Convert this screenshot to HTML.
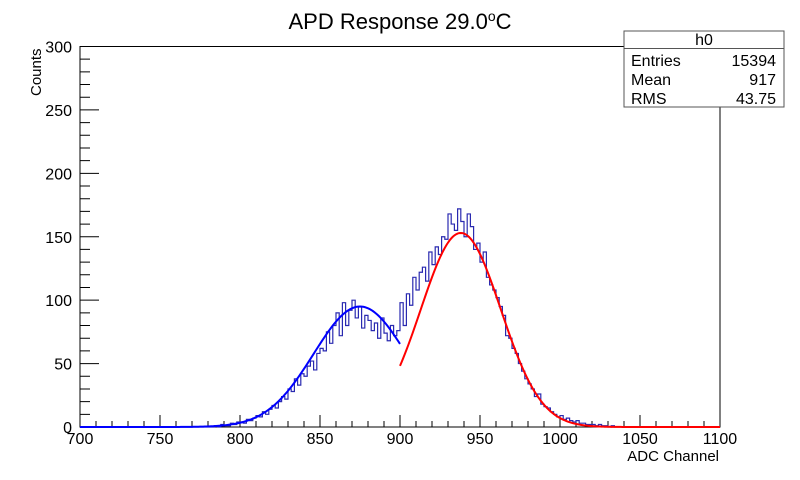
<!DOCTYPE html>
<html><head><meta charset="utf-8"><style>
body{margin:0;background:#fff;width:800px;height:475px;overflow:hidden;font-family:"Liberation Sans",sans-serif}
</style></head><body>
<svg id="c" width="800" height="475" xmlns="http://www.w3.org/2000/svg" font-family="Liberation Sans, sans-serif">
<text x="400" y="29" font-size="22" text-anchor="middle">APD Response 29.0<tspan dy="-8" font-size="14">o</tspan><tspan dy="8">C</tspan></text>
<g id="ax"></g>
<g id="marks"></g>
<text x="719" y="461" font-size="15" text-anchor="end">ADC Channel</text>
<text transform="translate(41,96) rotate(-90)" font-size="15" text-anchor="start">Counts</text>
<g>
<rect x="624" y="31" width="160" height="76" fill="#fff" stroke="#555" stroke-width="1"/>
<line x1="624" y1="48.5" x2="784" y2="48.5" stroke="#555"/>
<text x="704" y="45" font-size="16" text-anchor="middle">h0</text>
<text x="631" y="66" font-size="16">Entries</text><text x="776" y="66" font-size="16" text-anchor="end">15394</text>
<text x="631" y="85" font-size="16">Mean</text><text x="776" y="85" font-size="16" text-anchor="end">917</text>
<text x="631" y="104" font-size="16">RMS</text><text x="776" y="104" font-size="16" text-anchor="end">43.75</text>
</g>
</svg>
<script>
const binStart = 780;
const binWidth = 2;
const counts = [0,0,1,0,2,1,1,3,2,4,
4,3,6,5,7,9,8,12,10,14,
17,15,20,24,22,30,28,38,33,42,
40,48,52,45,58,62,60,75,66,80,
90,72,98,80,92,100,86,95,78,88,
84,76,82,70,86,74,68,80,72,76,
98,80,105,96,118,108,122,126,115,138,
128,142,136,150,148,168,160,155,172,162,
150,168,158,140,145,130,138,118,112,108,
102,95,88,72,70,62,58,50,44,38,
34,30,24,26,18,16,15,12,10,8,
9,6,7,5,4,5,3,3,2,2,
2,1,2,1,1,0,1,0,0,0];
const xTicks = [700,750,800,850,900,950,1000,1050,1100];
const yTicks = [0,50,100,150,200,250,300];
const fit1 = [95,875,29,700,900];   // amp, mean, sigma, from, to
const fit2 = [153,938,25,900,1100];

const L=80,R=720,T=46.5,B=427;
const X=v=>L+(v-700)/(400)*(R-L);
const Y=v=>B-v/300*(B-T);
const NS='http://www.w3.org/2000/svg';
function mk(tag,attrs,parent){const e=document.createElementNS(NS,tag);for(const k in attrs)e.setAttribute(k,attrs[k]);parent.appendChild(e);return e;}
const ax=document.getElementById('ax'), marks=document.getElementById('marks');
const frame=mk('rect',{x:L,y:T,width:R-L,height:B-T,fill:'none',stroke:'#000','stroke-width':1},ax);


let d='';
for(let v=700;v<=1100;v+=10){const h=(v%50===0)?12:6;d+=`M${X(v)},${B}v${-h}`;}
for(let v=0;v<=300;v+=10){const w=(v%50===0)?19:10;d+=`M${L},${Y(v)}h${w}`;}
const tk=mk('path',{d:d,stroke:'#000','stroke-width':1,fill:'none'},ax);


xTicks.forEach(v=>{const t=mk('text',{x:X(v),y:444,'font-size':16,'text-anchor':'middle'},ax);t.textContent=v;

});
yTicks.forEach(v=>{const t=mk('text',{x:L-8,y:Y(v)+6,'font-size':16,'text-anchor':'end'},ax);t.textContent=v;

});
let hp=`M${X(700)},${Y(0)}H${X(binStart)}`;
counts.forEach((c,i)=>{const x1=X(binStart+(i+1)*binWidth);hp+=`V${Y(c)}H${x1}`;});
hp+=`V${Y(0)}H${X(1100)}`;
const hist=mk('path',{d:hp,fill:'none',stroke:'#2a2ab0','stroke-width':1.2},marks);


function fit(p,color,name){let s='';for(let v=p[3];v<=p[4];v+=1){const y=p[0]*Math.exp(-((v-p[1])**2)/(2*p[2]*p[2]));s+=(s?'L':'M')+X(v)+','+Y(y);}
const e=mk('path',{d:s,fill:'none',stroke:color,'stroke-width':2},marks);

}
fit(fit1,'#0000ff','gaussian-fit-low');
fit(fit2,'#ff0000','gaussian-fit-high');
</script>
</body></html>
